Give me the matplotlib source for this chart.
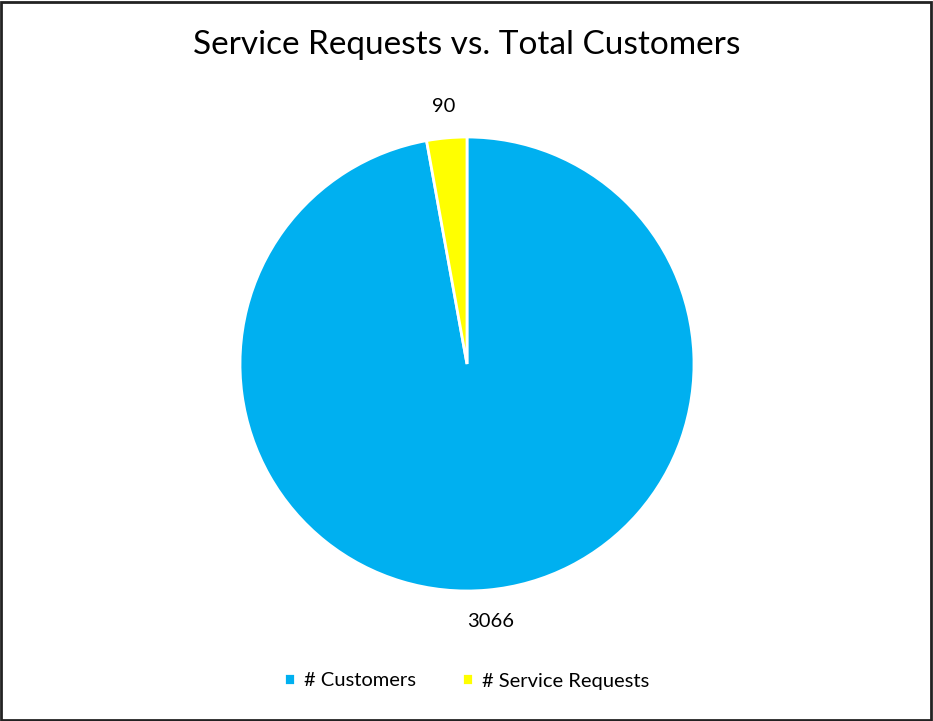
import matplotlib.pyplot as plt
from matplotlib.patches import Rectangle

plt.rcParams['font.family'] = ['Lato', 'DejaVu Sans']

labels = ['# Customers', '# Service Requests']
values = [3066, 90]
colors = ['#00B0F0', '#FFFF00']

fig = plt.figure(figsize=(9.33, 7.21), dpi=100)

# pie area: centre ~ (467, 364) px, radius ~227 px
r = 227
ax = fig.add_axes([(467 - r) / 933, 1 - (364 + r) / 721, 2 * r / 933, 2 * r / 721])
wedges, texts = ax.pie(values, colors=colors, startangle=90, counterclock=False,
                       labels=[str(v) for v in values], labeldistance=1.14,
                       wedgeprops=dict(edgecolor='white', linewidth=2),
                       textprops=dict(fontsize=14.5, color='#000000'))
for t in texts:
    t.set_ha('center')
    t.set_va('center')
ax.set_aspect('equal')
ax.set_xlim(-1, 1)
ax.set_ylim(-1, 1)

fig.text(0.5, 1 - 45 / 721, 'Service Requests vs. Total Customers',
         ha='center', va='center', fontsize=24)

fig.legend(wedges, labels, loc='center', bbox_to_anchor=(0.5, 1 - 681 / 721),
           ncol=2, frameon=False, fontsize=14.5, handlelength=0.55, handleheight=0.55,
           handletextpad=0.45, columnspacing=2.3)

fig.patches.append(Rectangle((0.001, 0.001), 0.997, 0.996, transform=fig.transFigure,
                             fill=False, edgecolor='#222222', linewidth=2))

fig.savefig('out.png', dpi=100)
